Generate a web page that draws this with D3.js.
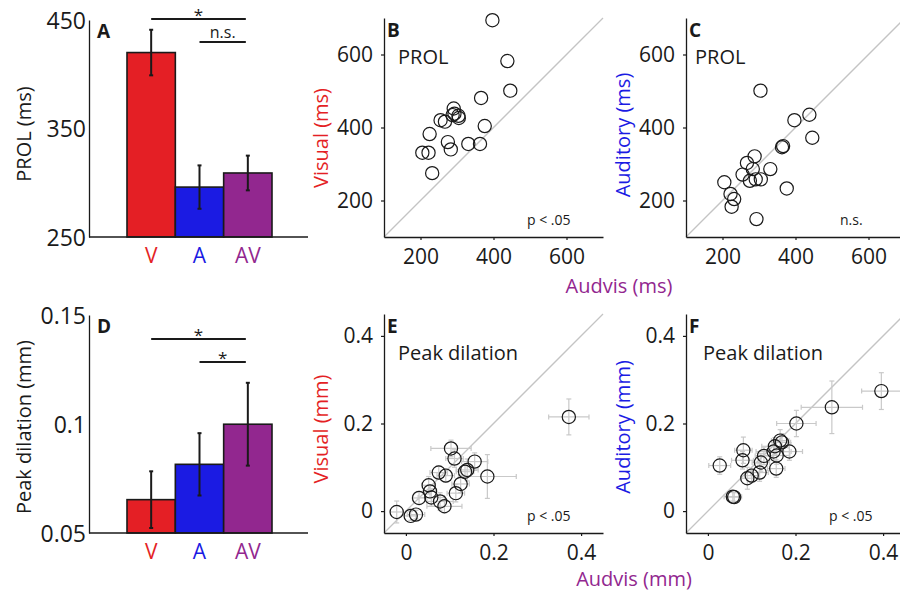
<!DOCTYPE html>
<html>
<head>
<meta charset="utf-8">
<script src="https://cdn.jsdelivr.net/npm/d3@7/dist/d3.min.js"></script>
<style>
  html, body { margin: 0; padding: 0; background: #fff; }
  svg { display: block; font-family: "Open Sans", "Noto Sans", sans-serif; }
</style>
</head>
<body>
<svg id="fig" width="900" height="594"></svg>
<script>
// ---- group means (bar panels) ----
const categories = ["V", "A", "AV"];
const categoryColors = ["#e41f25", "#1b1be3", "#92278f"];
const prolMean = [420, 296, 309];
const prolSem = [21, 20, 16];
const dilationMean = [0.0653, 0.0815, 0.0999];
const dilationSem = [0.013, 0.0143, 0.019];

// pairwise comparisons drawn above the bars
const prolComparisons = [["V", "AV", "*"], ["A", "AV", "n.s."]];
const dilationComparisons = [["V", "AV", "*"], ["A", "AV", "*"]];

// ---- per-subject PROL (ms) ----
const prolAudvis   = [205, 222, 225, 232, 255, 267, 275, 283, 288, 291, 293, 304, 305, 331, 363, 366, 376, 397, 438, 446];
const prolVisual   = [331, 331, 382, 275, 420, 416, 360, 340, 434, 452, 438, 432, 426, 355, 355, 481, 404, 694, 582, 501];
const prolAuditory = [250, 218, 183, 204, 271, 303, 254, 286, 321, 258, 149, 501, 258, 286, 346, 349, 233, 420, 435, 372];

// ---- per-subject peak dilation (mm), with errors ----
const dilAudvisE  = [0.372, 0.103, 0.111, 0.157, 0.140, 0.135, 0.075, 0.091, 0.186, 0.125, 0.052, 0.055, 0.058, 0.030, 0.114, 0.078, 0.088, -0.021, 0.011, 0.023];
const dilAudvisEErr = [0.046, 0.046, 0.020, 0.030, 0.025, 0.020, 0.020, 0.020, 0.066, 0.020, 0.015, 0.015, 0.030, 0.015, 0.020, 0.030, 0.040, 0.015, 0.015, 0.020];
const dilVisual   = [0.215, 0.143, 0.120, 0.113, 0.094, 0.090, 0.088, 0.081, 0.079, 0.062, 0.059, 0.045, 0.031, 0.030, 0.041, 0.022, 0.011, -0.002, -0.011, -0.008];
const dilVisualErr = [0.041, 0.019, 0.020, 0.020, 0.025, 0.015, 0.015, 0.015, 0.050, 0.020, 0.020, 0.015, 0.020, 0.015, 0.020, 0.020, 0.015, 0.025, 0.010, 0.010];

const dilAudvisF  = [0.396, 0.283, 0.202, 0.165, 0.169, 0.153, 0.186, 0.150, 0.157, 0.128, 0.081, 0.079, 0.121, 0.027, 0.156, 0.118, 0.100, 0.090, 0.057, 0.060];
const dilAudvisFErr = [0.045, 0.070, 0.045, 0.020, 0.020, 0.030, 0.030, 0.040, 0.030, 0.020, 0.020, 0.025, 0.020, 0.025, 0.020, 0.020, 0.015, 0.015, 0.020, 0.015];
const dilAuditory = [0.274, 0.237, 0.200, 0.161, 0.157, 0.148, 0.136, 0.136, 0.127, 0.126, 0.139, 0.116, 0.111, 0.104, 0.097, 0.088, 0.081, 0.075, 0.033, 0.032];
const dilAuditoryErr = [0.042, 0.060, 0.030, 0.025, 0.020, 0.020, 0.020, 0.020, 0.020, 0.020, 0.030, 0.020, 0.020, 0.020, 0.020, 0.020, 0.015, 0.025, 0.010, 0.010];

// ---- axis ticks ----
const prolBarTicks = [250, 350, 450];
const dilBarTicks = [0.05, 0.1, 0.15];
const prolScatterTicks = [200, 400, 600];
const dilScatterTicks = [0, 0.2, 0.4];

const svg = d3.select("#fig");
const INK = "#1a1a1a";
const DIAG = "#c4c4c4";
const fmtDil = d => (d === 0 ? "0" : d3.format(".2~f")(d));

function styleAxis(g, fontSize) {
  g.selectAll("path.domain").attr("stroke", INK).attr("stroke-width", 1.3);
  g.selectAll(".tick line").attr("stroke", INK).attr("stroke-width", 1.2);
  g.selectAll(".tick text").attr("fill", INK).attr("font-size", fontSize)
    .attr("font-family", "'Open Sans', sans-serif");
}

// ---------- bar panel ----------
function barPanel(o) {
  const x = d3.scaleBand().domain(categories).range([o.left + 38, o.left + 183]).padding(0);
  const y = d3.scaleLinear().domain(o.domain).range([o.bottom, o.top]);
  const g = svg.append("g");

  // y axis
  const ay = g.append("g").attr("transform", `translate(${o.left},0)`)
    .call(d3.axisLeft(y).tickValues(o.ticks).tickSize(0).tickPadding(3).tickFormat(o.fmt));
  styleAxis(ay, 23);
  ay.selectAll(".tick text").attr("dy", "0.36em");

  // bars
  g.selectAll("rect.bar").data(categories).join("rect")
    .attr("x", d => x(d)).attr("width", x.bandwidth())
    .attr("y", (d, i) => y(o.mean[i]))
    .attr("height", (d, i) => o.bottom - y(o.mean[i]))
    .attr("fill", (d, i) => categoryColors[i])
    .attr("stroke", INK).attr("stroke-width", 1.6);

  // error bars
  const eb = g.selectAll("g.err").data(categories).join("g");
  eb.append("line")
    .attr("x1", d => x(d) + x.bandwidth() / 2).attr("x2", d => x(d) + x.bandwidth() / 2)
    .attr("y1", (d, i) => y(o.mean[i] - o.sem[i])).attr("y2", (d, i) => y(o.mean[i] + o.sem[i]))
    .attr("stroke", INK).attr("stroke-width", 2);
  [-1, 1].forEach(s => {
    eb.append("line")
      .attr("x1", d => x(d) + x.bandwidth() / 2 - 2).attr("x2", d => x(d) + x.bandwidth() / 2 + 2)
      .attr("y1", (d, i) => y(o.mean[i] + s * o.sem[i])).attr("y2", (d, i) => y(o.mean[i] + s * o.sem[i]))
      .attr("stroke", INK).attr("stroke-width", 2);
  });

  // baseline
  g.append("line").attr("x1", o.left).attr("x2", o.left + 219)
    .attr("y1", o.bottom).attr("y2", o.bottom).attr("stroke", INK).attr("stroke-width", 1.6);

  // category labels
  g.selectAll("text.cat").data(categories).join("text")
    .attr("x", d => x(d) + x.bandwidth() / 2).attr("y", o.bottom + 26)
    .attr("text-anchor", "middle").attr("font-size", 21)
    .attr("fill", (d, i) => categoryColors[i]).text(d => d);

  // comparisons
  o.comparisons.forEach((c, k) => {
    const x1 = x(c[0]) + x.bandwidth() / 2, x2 = x(c[1]) + x.bandwidth() / 2 - 2;
    const ly = o.top + o.sigOffsets[k];
    g.append("line").attr("x1", x1).attr("x2", x2).attr("y1", ly).attr("y2", ly)
      .attr("stroke", INK).attr("stroke-width", 1.8);
    g.append("text").attr("x", (x1 + x2) / 2).attr("y", c[2] === "*" ? ly + 2 : ly - 4)
      .attr("text-anchor", "middle").attr("font-size", c[2] === "*" ? 17 : 16)
      .attr("fill", INK).text(c[2]);
  });

  // panel letter
  g.append("text").attr("x", o.left + 8).attr("y", o.top + 18)
    .attr("font-size", 19).attr("font-weight", "bold").attr("fill", INK).text(o.letter);

  // y title
  g.append("text").attr("transform", `translate(${o.titleX},${o.titleY}) rotate(-90)`)
    .attr("text-anchor", "middle").attr("dy", "0.35em").attr("font-size", 20)
    .attr("fill", INK).text(o.title);
}

// ---------- scatter panel ----------
function scatterPanel(o) {
  const size = 219;
  const x = d3.scaleLinear().domain(o.domain).range([o.left, o.left + size]);
  const y = d3.scaleLinear().domain(o.domain).range([o.bottom, o.bottom - size]);
  const g = svg.append("g");

  // unity line
  g.append("line").attr("x1", x(o.domain[0])).attr("y1", y(o.domain[0]))
    .attr("x2", x(o.domain[1])).attr("y2", y(o.domain[1]))
    .attr("stroke", DIAG).attr("stroke-width", 1.3);

  // axes
  const ax = g.append("g").attr("transform", `translate(0,${o.bottom})`)
    .call(d3.axisBottom(x).tickValues(o.ticks).tickSize(3).tickSizeOuter(0).tickPadding(9).tickFormat(o.fmt));
  styleAxis(ax, 21);
  const ay = g.append("g").attr("transform", `translate(${o.left},0)`)
    .call(d3.axisLeft(y).tickValues(o.ticks).tickSize(3).tickSizeOuter(0).tickPadding(8).tickFormat(o.fmt));
  styleAxis(ay, 21);

  const pts = o.xs.map((v, i) => ({ x: v, y: o.ys[i], ex: o.xErr ? o.xErr[i] : 0, ey: o.yErr ? o.yErr[i] : 0 }));

  // error bars
  if (o.xErr) {
    const cap = 2.5;
    const eg = g.append("g").attr("stroke", "#c9c9c9").attr("stroke-width", 1.2);
    pts.forEach(p => {
      const cx = x(p.x), cy = y(p.y);
      eg.append("line").attr("x1", x(p.x - p.ex)).attr("x2", x(p.x + p.ex)).attr("y1", cy).attr("y2", cy);
      eg.append("line").attr("x1", cx).attr("x2", cx).attr("y1", y(p.y - p.ey)).attr("y2", y(p.y + p.ey));
      [x(p.x - p.ex), x(p.x + p.ex)].forEach(ex => eg.append("line").attr("x1", ex).attr("x2", ex).attr("y1", cy - cap).attr("y2", cy + cap));
      [y(p.y - p.ey), y(p.y + p.ey)].forEach(ey => eg.append("line").attr("y1", ey).attr("y2", ey).attr("x1", cx - cap).attr("x2", cx + cap));
    });
  }

  // subjects
  g.selectAll("circle").data(pts).join("circle")
    .attr("cx", d => x(d.x)).attr("cy", d => y(d.y)).attr("r", 6.6)
    .attr("fill", "none").attr("stroke", INK).attr("stroke-width", 1.2);

  // letter, measure name, statistic
  g.append("text").attr("x", o.left + 3).attr("y", o.bottom - size + 19)
    .attr("font-size", 19).attr("font-weight", "bold").attr("fill", INK).text(o.letter);
  g.append("text").attr("x", o.left + o.nameDx).attr("y", o.bottom - size + 46)
    .attr("font-size", 20).attr("fill", INK).text(o.name);
  g.append("text").attr("x", o.left + 165).attr("y", o.bottom - 12)
    .attr("text-anchor", "start").attr("font-size", 14).attr("fill", INK)
    .attr("dx", o.stat === "n.s." ? -11 : -22).text(o.stat);

  // y title
  g.append("text").attr("transform", `translate(${o.left - 63},${o.titleY}) rotate(-90)`)
    .attr("text-anchor", "middle").attr("dy", "0.35em").attr("font-size", 20)
    .attr("fill", o.titleColor).text(o.title);
}

barPanel({
  left: 89, top: 20, bottom: 237, domain: [250, 450], ticks: prolBarTicks, fmt: d3.format("d"),
  mean: prolMean, sem: prolSem, comparisons: prolComparisons, sigOffsets: [-1, 22],
  letter: "A", title: "PROL (ms)", titleX: 24, titleY: 134
});
barPanel({
  left: 89, top: 315, bottom: 533, domain: [0.05, 0.15], ticks: dilBarTicks, fmt: fmtDil,
  mean: dilationMean, sem: dilationSem, comparisons: dilationComparisons, sigOffsets: [24, 47],
  letter: "D", title: "Peak dilation (mm)", titleX: 24, titleY: 427
});

scatterPanel({
  left: 384, bottom: 237, domain: [100, 700], ticks: prolScatterTicks, fmt: d3.format("d"),
  xs: prolAudvis, ys: prolVisual, letter: "B", name: "PROL", nameDx: 14, stat: "p < .05",
  title: "Visual (ms)", titleColor: "#e41f25", titleY: 138
});
scatterPanel({
  left: 686, bottom: 237, domain: [100, 700], ticks: prolScatterTicks, fmt: d3.format("d"),
  xs: prolAudvis, ys: prolAuditory, letter: "C", name: "PROL", nameDx: 9, stat: "n.s.",
  title: "Auditory (ms)", titleColor: "#1b1be3", titleY: 135
});
scatterPanel({
  left: 384, bottom: 533, domain: [-0.05, 0.45], ticks: dilScatterTicks, fmt: fmtDil,
  xs: dilAudvisE, ys: dilVisual, xErr: dilAudvisEErr, yErr: dilVisualErr,
  letter: "E", name: "Peak dilation", nameDx: 14, stat: "p < .05",
  title: "Visual (mm)", titleColor: "#e41f25", titleY: 429
});
scatterPanel({
  left: 686, bottom: 533, domain: [-0.05, 0.45], ticks: dilScatterTicks, fmt: fmtDil,
  xs: dilAudvisF, ys: dilAuditory, xErr: dilAudvisFErr, yErr: dilAuditoryErr,
  letter: "F", name: "Peak dilation", nameDx: 17, stat: "p < .05",
  title: "Auditory (mm)", titleColor: "#1b1be3", titleY: 427
});

// shared x titles
svg.append("text").attr("x", 619).attr("y", 293).attr("text-anchor", "middle")
  .attr("font-size", 20).attr("fill", "#92278f").text("Audvis (ms)");
svg.append("text").attr("x", 634).attr("y", 586).attr("text-anchor", "middle")
  .attr("font-size", 20).attr("fill", "#92278f").text("Audvis (mm)");
</script>
</body>
</html>
